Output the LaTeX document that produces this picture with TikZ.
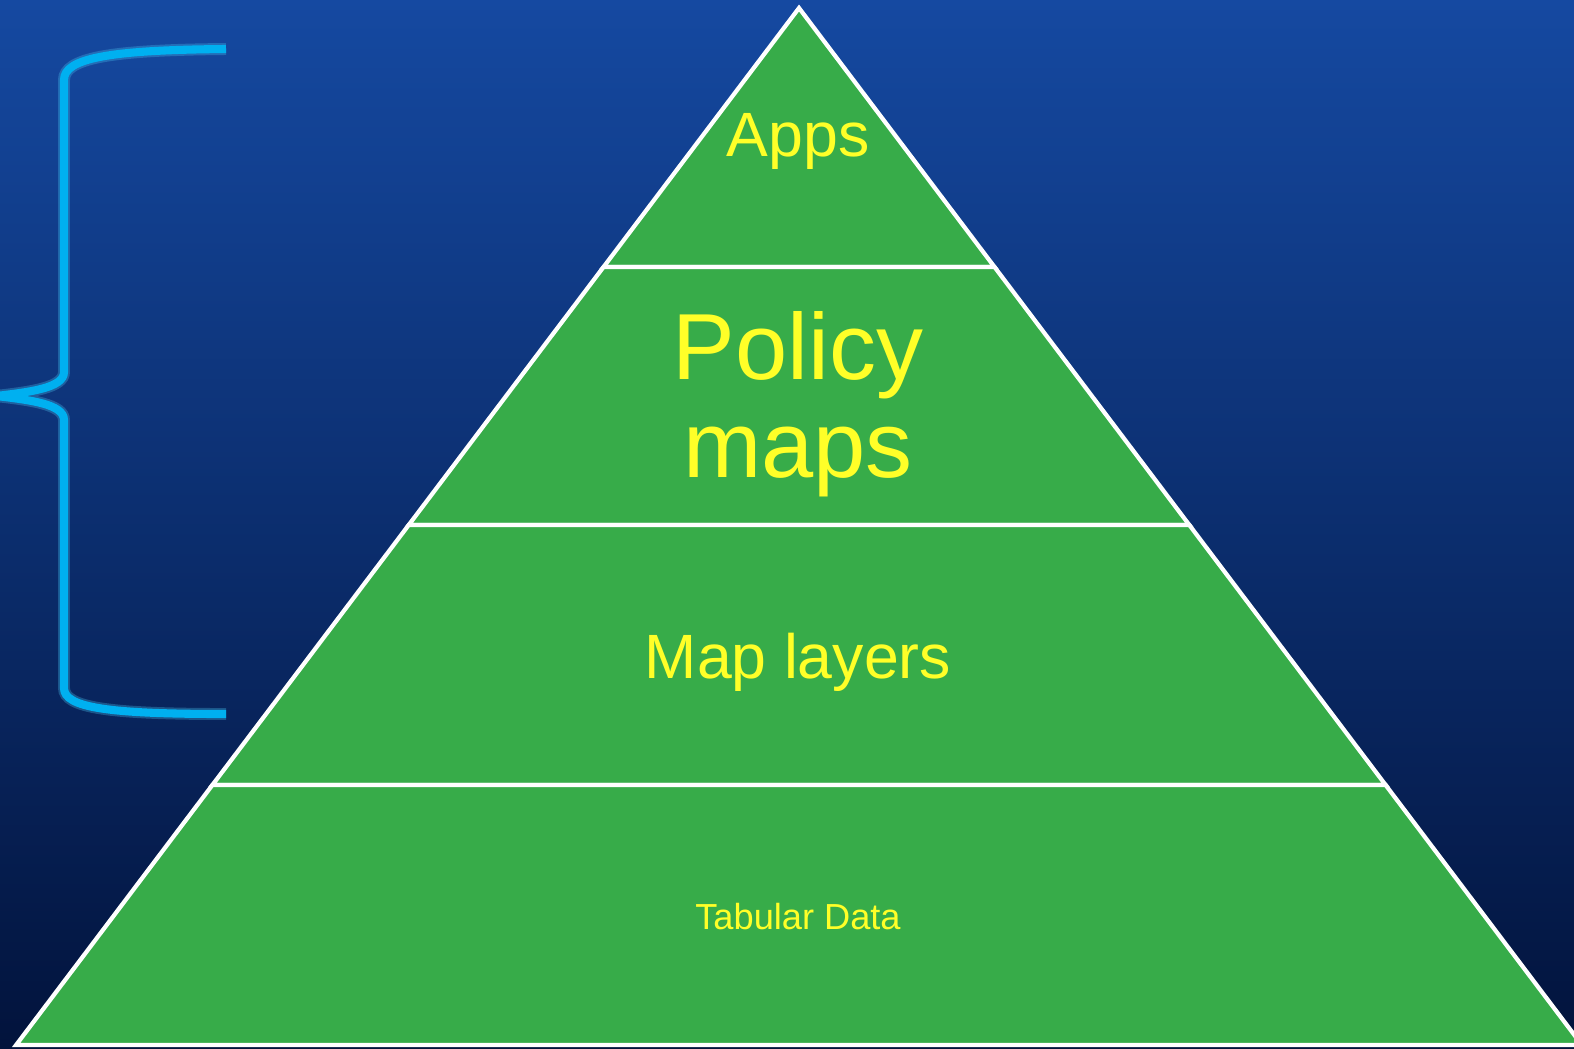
\documentclass[tikz,border=0pt]{standalone}
\usepackage{fontspec}
\setmainfont{Liberation Sans}
\definecolor{skytop}{RGB}{21,73,161}
\definecolor{skybottom}{RGB}{2,19,60}
\definecolor{layergreen}{RGB}{55,172,73}
\definecolor{bracecyan}{RGB}{0,176,240}
\definecolor{textyellow}{RGB}{255,255,40}

\begin{document}
\begin{tikzpicture}[x=0.01cm, y=-0.01cm,
  layer/.style={fill=layergreen, draw=white, line width=1.2pt, line join=miter},
  layertext/.style={text=textyellow, inner sep=0pt, anchor=base}]
\useasboundingbox (0,0) rectangle (1574,1048);
\clip (0,0) rectangle (1574,1048);

\shade[top color=skytop, bottom color=skybottom] (0,0) rectangle (1574,1048);

% brace
\draw[bracecyan!70!white, line width=3.4pt, opacity=0.3] (226,49) .. controls (110,50) and (64,58) .. (64,80) -- (64,372) .. controls (64,388) and (30,392) .. (-4,396) .. controls (30,400) and (64,404) .. (64,420) -- (64,688) .. controls (64,708) and (110,714) .. (226,714);
\draw[bracecyan, line width=2.3pt] (226,49) .. controls (110,50) and (64,58) .. (64,80) -- (64,372) .. controls (64,388) and (30,392) .. (-4,396) .. controls (30,400) and (64,404) .. (64,420) -- (64,688) .. controls (64,708) and (110,714) .. (226,714);

% pyramid
\filldraw[layer] (799,8) -- (994.5,267) -- (603.5,267) -- cycle;
\filldraw[layer] (603.5,267) -- (994.5,267) -- (1189.3,525) -- (408.7,525) -- cycle;
\filldraw[layer] (408.7,525) -- (1189.3,525) -- (1385.6,785) -- (212.4,785) -- cycle;
\filldraw[layer] (212.4,785) -- (1385.6,785) -- (1581.9,1045) -- (16.1,1045) -- cycle;

\node[layertext, font=\fontsize{17.8}{20}\selectfont] (apps) at (798,156) {Apps};
\node[layertext, font=\fontsize{26.7}{27.8}\selectfont, align=center] (policy) at (798,477) {Policy\\maps};
\node[layertext, font=\fontsize{17.8}{20}\selectfont] (maplayers) at (798,678) {Map layers};
\node[layertext, font=\fontsize{10.3}{12}\selectfont] (tabular) at (798,929) {Tabular Data};

\end{tikzpicture}
\end{document}
